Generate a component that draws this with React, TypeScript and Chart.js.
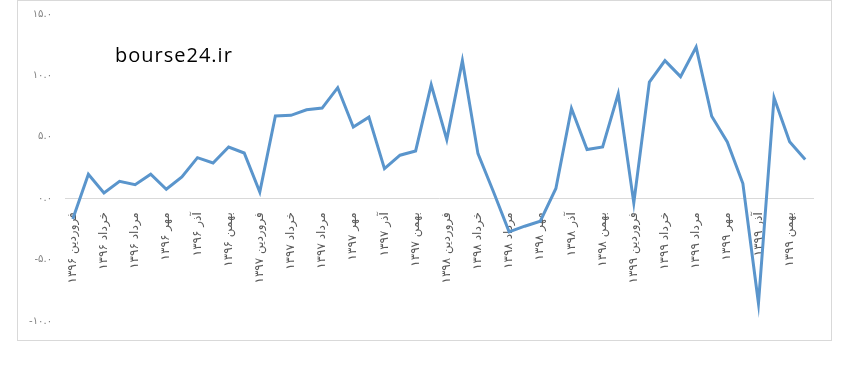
import React, { useEffect, useRef } from "react";
import { Chart, registerables } from "chart.js";

Chart.register(...registerables);

const MONTHS = [
  "فروردین", "اردیبهشت", "خرداد", "تیر", "مرداد", "شهریور",
  "مهر", "آبان", "آذر", "دی", "بهمن", "اسفند",
];
const YEARS = ["۱۳۹۶", "۱۳۹۷", "۱۳۹۸", "۱۳۹۹"];

const CATEGORIES: string[] = YEARS.flatMap((y) => MONTHS.map((m) => `${m} ${y}`));

const VALUES = [
  -1.7, 1.95, 0.43, 1.38, 1.1, 1.95, 0.73, 1.73, 3.3, 2.87, 4.17, 3.68,
  0.51, 6.7, 6.75, 7.2, 7.34, 9.0, 5.8, 6.6, 2.41, 3.5, 3.85, 9.24,
  4.77, 11.2, 3.63, 0.5, -2.74, -2.28, -1.87, 0.79, 7.3, 3.96, 4.17, 8.5,
  -0.38, 9.46, 11.2, 9.9, 12.3, 6.67, 4.58, 1.19, -8.56, 8.19, 4.6, 3.15,
];

const Y_MIN = -10;
const Y_MAX = 15;
const Y_STEP = 5;

const FA_DIGITS = "۰۱۲۳۴۵۶۷۸۹";
const toFa = (s: string) => s.replace(/[0-9]/g, (d) => FA_DIGITS[Number(d)]);

export default function App() {
  const ref = useRef<HTMLCanvasElement | null>(null);

  useEffect(() => {
    document.body.style.margin = "0";
    const canvas = ref.current;
    if (!canvas) return;
    const chart = new Chart(canvas, {
      type: "line",
      data: {
        labels: CATEGORIES,
        datasets: [
          {
            data: VALUES,
            borderColor: "#5A95CC",
            borderWidth: 3,
            pointRadius: 0,
            tension: 0,
            fill: false,
          },
        ],
      },
      options: {
        responsive: false,
        animation: false,
        maintainAspectRatio: false,
        layout: { padding: { left: 0, right: 28, top: 14, bottom: 50 } },
        plugins: { legend: { display: false }, tooltip: { enabled: false } },
        scales: {
          x: {
            type: "category",
            offset: true,
            position: { y: 0 } as any,
            grid: { display: false },
            border: { display: true, color: "#d9d9d9", width: 1 },
            ticks: {
              autoSkip: false,
              minRotation: 90,
              maxRotation: 90,
              padding: 6,
              color: "#595959",
              font: { family: "DejaVu Sans", size: 12 },
              callback: function (this: any, val: any, idx: number) {
                return idx % 2 === 0 ? this.getLabelForValue(val) : "";
              },
            },
          },
          y: {
            min: Y_MIN,
            max: Y_MAX,
            grid: { display: false },
            border: { display: false },
            afterFit: (axis: any) => {
              axis.width = 65;
            },
            ticks: {
              stepSize: Y_STEP,
              padding: 5,
              color: "#7f7f7f",
              font: { family: "DejaVu Sans", size: 10 },
              callback: (v: any) => toFa(Number(v).toFixed(1)),
            },
          },
        },
      },
    });
    return () => chart.destroy();
  }, []);

  return (
    <div style={{ position: "relative", width: 841, height: 371, background: "#fff" }}>
      <div
        style={{
          position: "absolute",
          left: 17,
          top: 0,
          width: 815,
          height: 341,
          border: "1px solid #d9d9d9",
          boxSizing: "border-box",
        }}
      />
      <canvas
        ref={ref}
        width={841}
        height={371}
        style={{ position: "absolute", left: 0, top: 0 }}
      />
      <div
        style={{
          position: "absolute",
          left: 115,
          top: 45,
          fontFamily: "'Open Sans', sans-serif",
          fontSize: 20,
          lineHeight: "20px",
          letterSpacing: "1px",
          color: "#000",
          whiteSpace: "nowrap",
        }}
      >
        bourse24.ir
      </div>
    </div>
  );
}
